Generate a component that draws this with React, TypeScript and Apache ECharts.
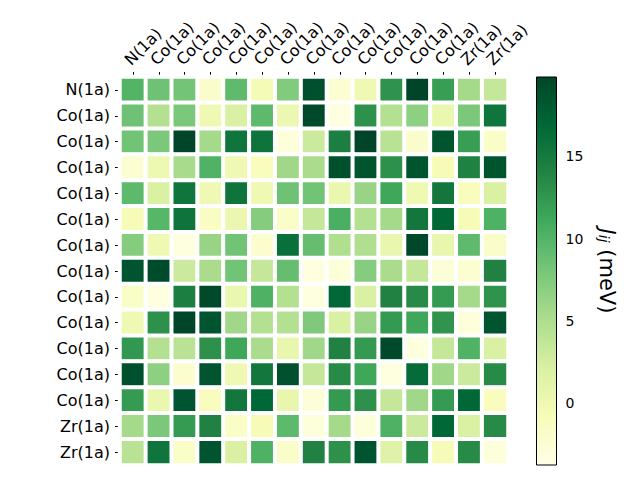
import React, { useEffect, useRef } from "react";
import * as echarts from "echarts";

const rowLabels = [
  "N(1a)", "Co(1a)", "Co(1a)", "Co(1a)", "Co(1a)", "Co(1a)", "Co(1a)", "Co(1a)",
  "Co(1a)", "Co(1a)", "Co(1a)", "Co(1a)", "Co(1a)", "Zr(1a)", "Zr(1a)",
];
const colLabels = [...rowLabels];

const jValues: number[][] = [
  [10, 8.5, 8.3, -2, 9.4, -0.5, 7.5, 19, -2.5, 0, 12.8, 19.8, 12, 5.5, 3.5],
  [8.5, 4.7, 7.8, 0, 2, 9.5, 0.3, 19.5, -3.5, 13, 4.7, 6.8, 0.5, 7.8, 15.5],
  [8.4, 7.8, 19.8, 5.5, 15.5, 15.6, -3, 3, 14.5, 19.8, 4.3, -2, 18.5, 12, -1.8],
  [-2.5, 0.2, 5.3, 10.2, 0, -1, 5.8, 5.2, 19, 18.5, 13, 18.5, -0.7, 14.3, 18.5],
  [9.5, 2, 15.5, 0, 15.6, 0, 8.5, 8.4, 0.5, 6.2, 11.3, 0, 15.3, -1, 2],
  [-0.7, 9.8, 15.6, -1.5, 0.4, 7.3, -1.8, 3.5, 10.5, 4.7, 5.5, 15.3, 17, -0.7, 10.3],
  [7.3, 0, -3.3, 6.2, 8.4, -2.2, 16, 9, 4.8, 4.8, 0.7, 19.6, 0.7, 9.3, -1.8],
  [18.6, 19.3, 3, 5.2, 8.4, 3.5, 9, -3.3, -3, 7.3, 5.2, 3.5, -2.8, -2.5, 14.2],
  [-1.7, -3.3, 14.5, 19.5, 0.5, 10.3, 4.7, -3.3, 17, 2, 14.2, 13.5, 12.2, 5.5, 12.8],
  [0, 13, 19.8, 18.6, 5.8, 4.7, 4.6, 7.6, 2, 6.2, 12.3, 11.3, 12.7, -3, 18.6],
  [12.5, 4.7, 4.3, 13, 11.3, 5.2, 0.7, 5.8, 14.2, 12.3, 19.5, -3.3, 3.5, 10.2, 2],
  [19, 6.8, -2.2, 18.5, 0, 15.3, 19, 3.5, 13.5, 11.3, -3.3, 16.5, 5.8, 3, 13.5],
  [12.2, 0.5, 18.6, -1, 15.3, 17, 0.7, -2.8, 12.3, 13, 3.5, 5.8, 12.2, 17, -1],
  [5.5, 7.8, 12.2, 14.2, -1.7, -0.7, 9.5, -3, 5.5, -3, 10.3, 3, 17, 2, 13.5],
  [4.3, 15.5, -1.7, 18.6, 2, 10.3, -1.8, 14.2, 13, 18.6, 1.6, 13.5, -0.7, 13.5, -3],
];

const vMin = -3.75;
const vMax = 19.83;
const cbTicks = [0, 5, 10, 15];
const ylgn = [
  "#ffffe5", "#f7fcb9", "#d9f0a3", "#addd8e", "#78c679",
  "#41ab5d", "#238443", "#006837", "#004529",
];

export default function App() {
  const ref = useRef<HTMLDivElement>(null);
  useEffect(() => {
    if (!ref.current) return;
    const chart = echarts.init(ref.current, undefined, { renderer: "svg" });
    const data: number[][] = [];
    jValues.forEach((row, r) => row.forEach((v, c) => data.push([c, r, v])));
    const stops = ylgn.map((color, i) => ({ offset: i / (ylgn.length - 1), color }));
    const font = "DejaVu Sans";
    const tickStyle = { color: "#000", width: 1 };
    chart.setOption({
      animation: false,
      textStyle: { fontFamily: font },
      grid: [
        { left: 120, top: 77, width: 388, height: 388 },
        { left: 536.5, top: 77, width: 20, height: 388 },
      ],
      xAxis: [
        {
          type: "category",
          gridIndex: 0,
          position: "top",
          data: colLabels,
          axisLine: { show: false },
          axisTick: { show: true, alignWithLabel: true, length: 5, lineStyle: tickStyle },
          axisLabel: {
            interval: 0,
            rotate: -45,
            align: "left",
            verticalAlign: "bottom",
            margin: 9,
            fontSize: 16,
            color: "#000",
            fontFamily: font,
          },
          splitLine: { show: false },
        },
        { type: "value", gridIndex: 1, min: 0, max: 1, show: false },
      ],
      yAxis: [
        {
          type: "category",
          gridIndex: 0,
          data: rowLabels,
          inverse: true,
          axisLine: { show: false },
          axisTick: { show: true, alignWithLabel: true, length: 5, lineStyle: tickStyle },
          axisLabel: { interval: 0, margin: 10, fontSize: 16, color: "#000", fontFamily: font },
          splitLine: { show: false },
        },
        {
          type: "value",
          gridIndex: 1,
          position: "right",
          min: vMin,
          max: vMax,
          axisLine: { show: false },
          splitLine: { show: false },
          axisTick: { show: true, customValues: cbTicks, length: 4, lineStyle: tickStyle },
          axisLabel: { customValues: cbTicks, margin: 9, fontSize: 14, color: "#000", fontFamily: font },
          name: "{j|J}{s|ij} (meV)",
          nameLocation: "middle",
          nameRotate: -90,
          nameGap: 40,
          nameTextStyle: {
            fontSize: 21,
            color: "#000",
            fontFamily: font,
            rich: {
              j: { fontSize: 21, fontStyle: "italic", color: "#000", fontFamily: font },
              s: { fontSize: 14, fontStyle: "italic", color: "#000", fontFamily: font, verticalAlign: "bottom" },
            },
          },
        },
      ],
      visualMap: {
        show: false,
        seriesIndex: 0,
        dimension: 2,
        min: vMin,
        max: vMax,
        inRange: { color: ylgn },
      },
      series: [
        {
          type: "heatmap",
          xAxisIndex: 0,
          yAxisIndex: 0,
          data,
          itemStyle: { borderColor: "#fff", borderWidth: 4 },
          emphasis: { disabled: true },
        },
        {
          type: "custom",
          xAxisIndex: 1,
          yAxisIndex: 1,
          silent: true,
          clip: false,
          data: [[0, vMin, vMax]],
          renderItem: (params: any, api: any) => {
            const p1 = api.coord([0, api.value(2)]);
            const p2 = api.coord([1, api.value(1)]);
            return {
              type: "rect",
              shape: { x: p1[0], y: p1[1], width: p2[0] - p1[0], height: p2[1] - p1[1] },
              style: {
                fill: new echarts.graphic.LinearGradient(0, 1, 0, 0, stops),
                stroke: "#000",
                lineWidth: 1,
              },
            };
          },
        },
      ],
    });
    return () => chart.dispose();
  }, []);
  return (
    <div
      ref={ref}
      style={{ position: "absolute", left: 0, top: 0, width: 640, height: 480, background: "#fff" }}
    />
  );
}
